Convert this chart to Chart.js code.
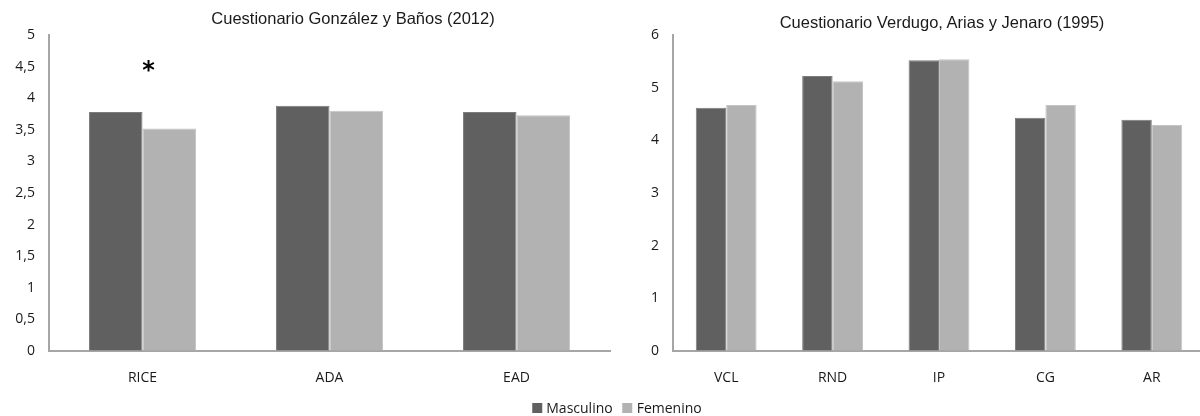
<!DOCTYPE html>
<html>
<head>
<meta charset="utf-8">
<script src="https://cdn.jsdelivr.net/npm/chart.js@4.4.1/dist/chart.umd.min.js"></script>
<style>
  html, body { margin: 0; padding: 0; background: #fff; overflow: hidden; }
  #wrap { position: relative; width: 1200px; height: 416px; overflow: hidden; }
  canvas { position: absolute; top: 0; }
  .titulo { position: absolute; font-family: "Liberation Sans", Arial, sans-serif; font-size: 16.5px; color: #1a1a1a; white-space: nowrap; transform: translateX(-50%); }
  #leyenda { position: absolute; left: 622px; top: 398px; transform: translateX(-50%); font-family: "Open Sans", sans-serif; font-size: 14px; color: #1a1a1a; white-space: nowrap; }
  #leyenda span.box { display: inline-block; width: 10px; height: 10px; margin-right: 4px; vertical-align: 0px; }
  #leyenda span.item { margin-right: 10px; }
</style>
</head>
<body>
<div id="wrap">
  <canvas id="graf1" width="640" height="416" style="left:0px"></canvas>
  <canvas id="graf2" width="600" height="416" style="left:620px"></canvas>
  <div class="titulo" id="t1" style="left:353px; top:9px"></div>
  <div class="titulo" id="t2" style="left:942px; top:13px"></div>
  <div id="leyenda"></div>
</div>
<script>
// datos
var series = ["Masculino", "Femenino"];
var colores = ["#606060", "#b2b2b2"];
var bordes = ["#7c7c7c", "#c4c4c4"];

var titulo1 = "Cuestionario González y Baños (2012)";
var categorias1 = ["RICE", "ADA", "EAD"];
var masculino1 = [3.78, 3.88, 3.78];
var femenino1 = [3.52, 3.80, 3.73];
var marcas1 = ["*", "", ""];
var alturaMarca1 = 4.5;

var titulo2 = "Cuestionario Verdugo, Arias y Jenaro (1995)";
var categorias2 = ["VCL", "RND", "IP", "CG", "AR"];
var masculino2 = [4.62, 5.22, 5.52, 4.43, 4.39];
var femenino2 = [4.67, 5.12, 5.54, 4.67, 4.29];

var fuente = "'Open Sans', sans-serif";

document.getElementById("t1").textContent = titulo1;
document.getElementById("t2").textContent = titulo2;

// leyenda compartida
var ley = document.getElementById("leyenda");
series.forEach(function (s, i) {
  var it = document.createElement("span");
  it.className = "item";
  it.innerHTML = '<span class="box" style="background:' + colores[i] + '"></span>' + s;
  ley.appendChild(it);
});

function coma(v) {
  return String(v).replace(".", ",");
}

// asterisco de significacion
var pluginMarcas = {
  id: "marcas",
  afterDatasetsDraw: function (chart, args, opts) {
    if (!opts.textos) return;
    var ctx = chart.ctx;
    var x = chart.scales.x, y = chart.scales.y;
    ctx.save();
    ctx.fillStyle = "#000";
    ctx.font = "bold 24px 'DejaVu Sans', sans-serif";
    ctx.textAlign = "center";
    ctx.textBaseline = "middle";
    opts.textos.forEach(function (t, i) {
      if (!t) return;
      ctx.fillText(t, x.getPixelForValue(i) + 6, y.getPixelForValue(opts.valor) + 5);
    });
    ctx.restore();
  }
};

function crear(id, labels, m, f, maxY, paso, anchoY, padDer, marcas) {
  var ctx = document.getElementById(id).getContext("2d");
  return new Chart(ctx, {
    type: "bar",
    data: {
      labels: labels,
      datasets: [{
        label: series[0],
        data: m,
        backgroundColor: colores[0],
        borderColor: bordes[0],
        borderWidth: 1
      }, {
        label: series[1],
        data: f,
        backgroundColor: colores[1],
        borderColor: bordes[1],
        borderWidth: 1
      }]
    },
    options: {
      responsive: false,
      animation: false,
      categoryPercentage: 0.572,
      barPercentage: 1,
      layout: { padding: { top: 35, right: padDer, left: 0, bottom: 0 } },
      plugins: {
        legend: { display: false },
        tooltip: { enabled: false },
        marcas: marcas || {}
      },
      scales: {
        x: {
          grid: { display: true, drawOnChartArea: false, drawTicks: false },
          border: { display: true, color: "#a6a6a6", width: 2 },
          ticks: { color: "#1a1a1a", font: { family: fuente, size: 14 }, padding: 19 },
          afterFit: function (s) { s.height = 65; }
        },
        y: {
          min: 0,
          max: maxY,
          grid: { display: true, drawOnChartArea: false, drawTicks: false },
          border: { display: true, color: "#a6a6a6", width: 2 },
          ticks: {
            stepSize: paso,
            color: "#1a1a1a",
            font: { family: fuente, size: 14 },
            padding: 14,
            callback: function (v) { return coma(v); }
          },
          afterFit: function (s) { s.width = anchoY; }
        }
      }
    },
    plugins: [pluginMarcas]
  });
}

crear("graf1", categorias1, masculino1, femenino1, 5, 0.5, 49, 30, { textos: marcas1, valor: alturaMarca1 });
crear("graf2", categorias2, masculino2, femenino2, 6, 1, 53, 15, null);
</script>
</body>
</html>
